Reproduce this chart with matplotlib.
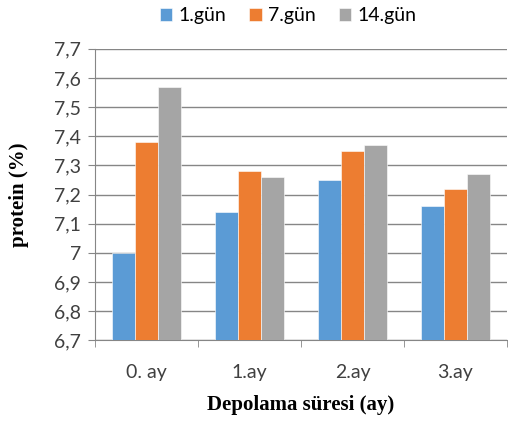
import numpy as np
import matplotlib.pyplot as plt
from matplotlib.ticker import FuncFormatter

categories = ["0. ay", "1.ay", "2.ay", "3.ay"]
series_names = ["1.gün", "7.gün", "14.gün"]
gun1 = [7.00, 7.14, 7.25, 7.16]
gun7 = [7.38, 7.28, 7.35, 7.22]
gun14 = [7.57, 7.26, 7.37, 7.27]
colors = ["#5B9BD5", "#ED7D31", "#A5A5A5"]

fig = plt.figure(figsize=(5.08, 4.21), dpi=100)
ax = fig.add_axes([0.187, 0.192, 0.811, 0.692])

x = np.arange(len(categories))
w = 0.223
for i, vals in enumerate([gun1, gun7, gun14]):
    ax.bar(x + (i - 1) * w, np.array(vals) - 6.7, w, bottom=6.7,
           color=colors[i], edgecolor="white", linewidth=0.4,
           label=series_names[i], zorder=3)

ax.set_ylim(6.7, 7.7)
ax.set_yticks(np.arange(6.7, 7.71, 0.1))
ax.yaxis.set_major_formatter(FuncFormatter(
    lambda v, p: ("%.1f" % v).replace(".", ",").replace(",0", "")))
ax.set_xlim(-0.5, 3.5)
ax.set_xticks(x)
ax.set_xticklabels(categories)
ax.set_xticks(np.arange(-0.5, 3.6, 1), minor=True)
ax.tick_params(axis="x", which="major", length=0, pad=17)
ax.tick_params(axis="x", which="minor", length=5, color="#868686", direction="out")
ax.tick_params(axis="y", length=5, color="#868686", pad=5)

tick_font = "Lato"
for lab in ax.get_xticklabels() + ax.get_yticklabels():
    lab.set_fontfamily(tick_font)
    lab.set_fontsize(14)
    lab.set_color("#404040")

ax.grid(axis="y", color="#868686", linewidth=1, zorder=0)
for s in ["top", "right"]:
    ax.spines[s].set_visible(False)
ax.spines["left"].set_color("#868686")
ax.spines["bottom"].set_color("#868686")

ax.set_ylabel("protein (%)", fontfamily="Liberation Serif", fontweight="bold",
              fontsize=15, labelpad=18)
ax.set_xlabel("Depolama süresi (ay)", fontfamily="Liberation Serif",
              fontweight="bold", fontsize=15, labelpad=10)

fig.legend(loc="upper center", bbox_to_anchor=(0.567, 1.025), ncol=3, frameon=False,
           prop={"family": tick_font, "size": 14}, handlelength=0.65,
           handleheight=0.65, handletextpad=0.3, columnspacing=1.2)

fig.savefig("out.png", dpi=100)
